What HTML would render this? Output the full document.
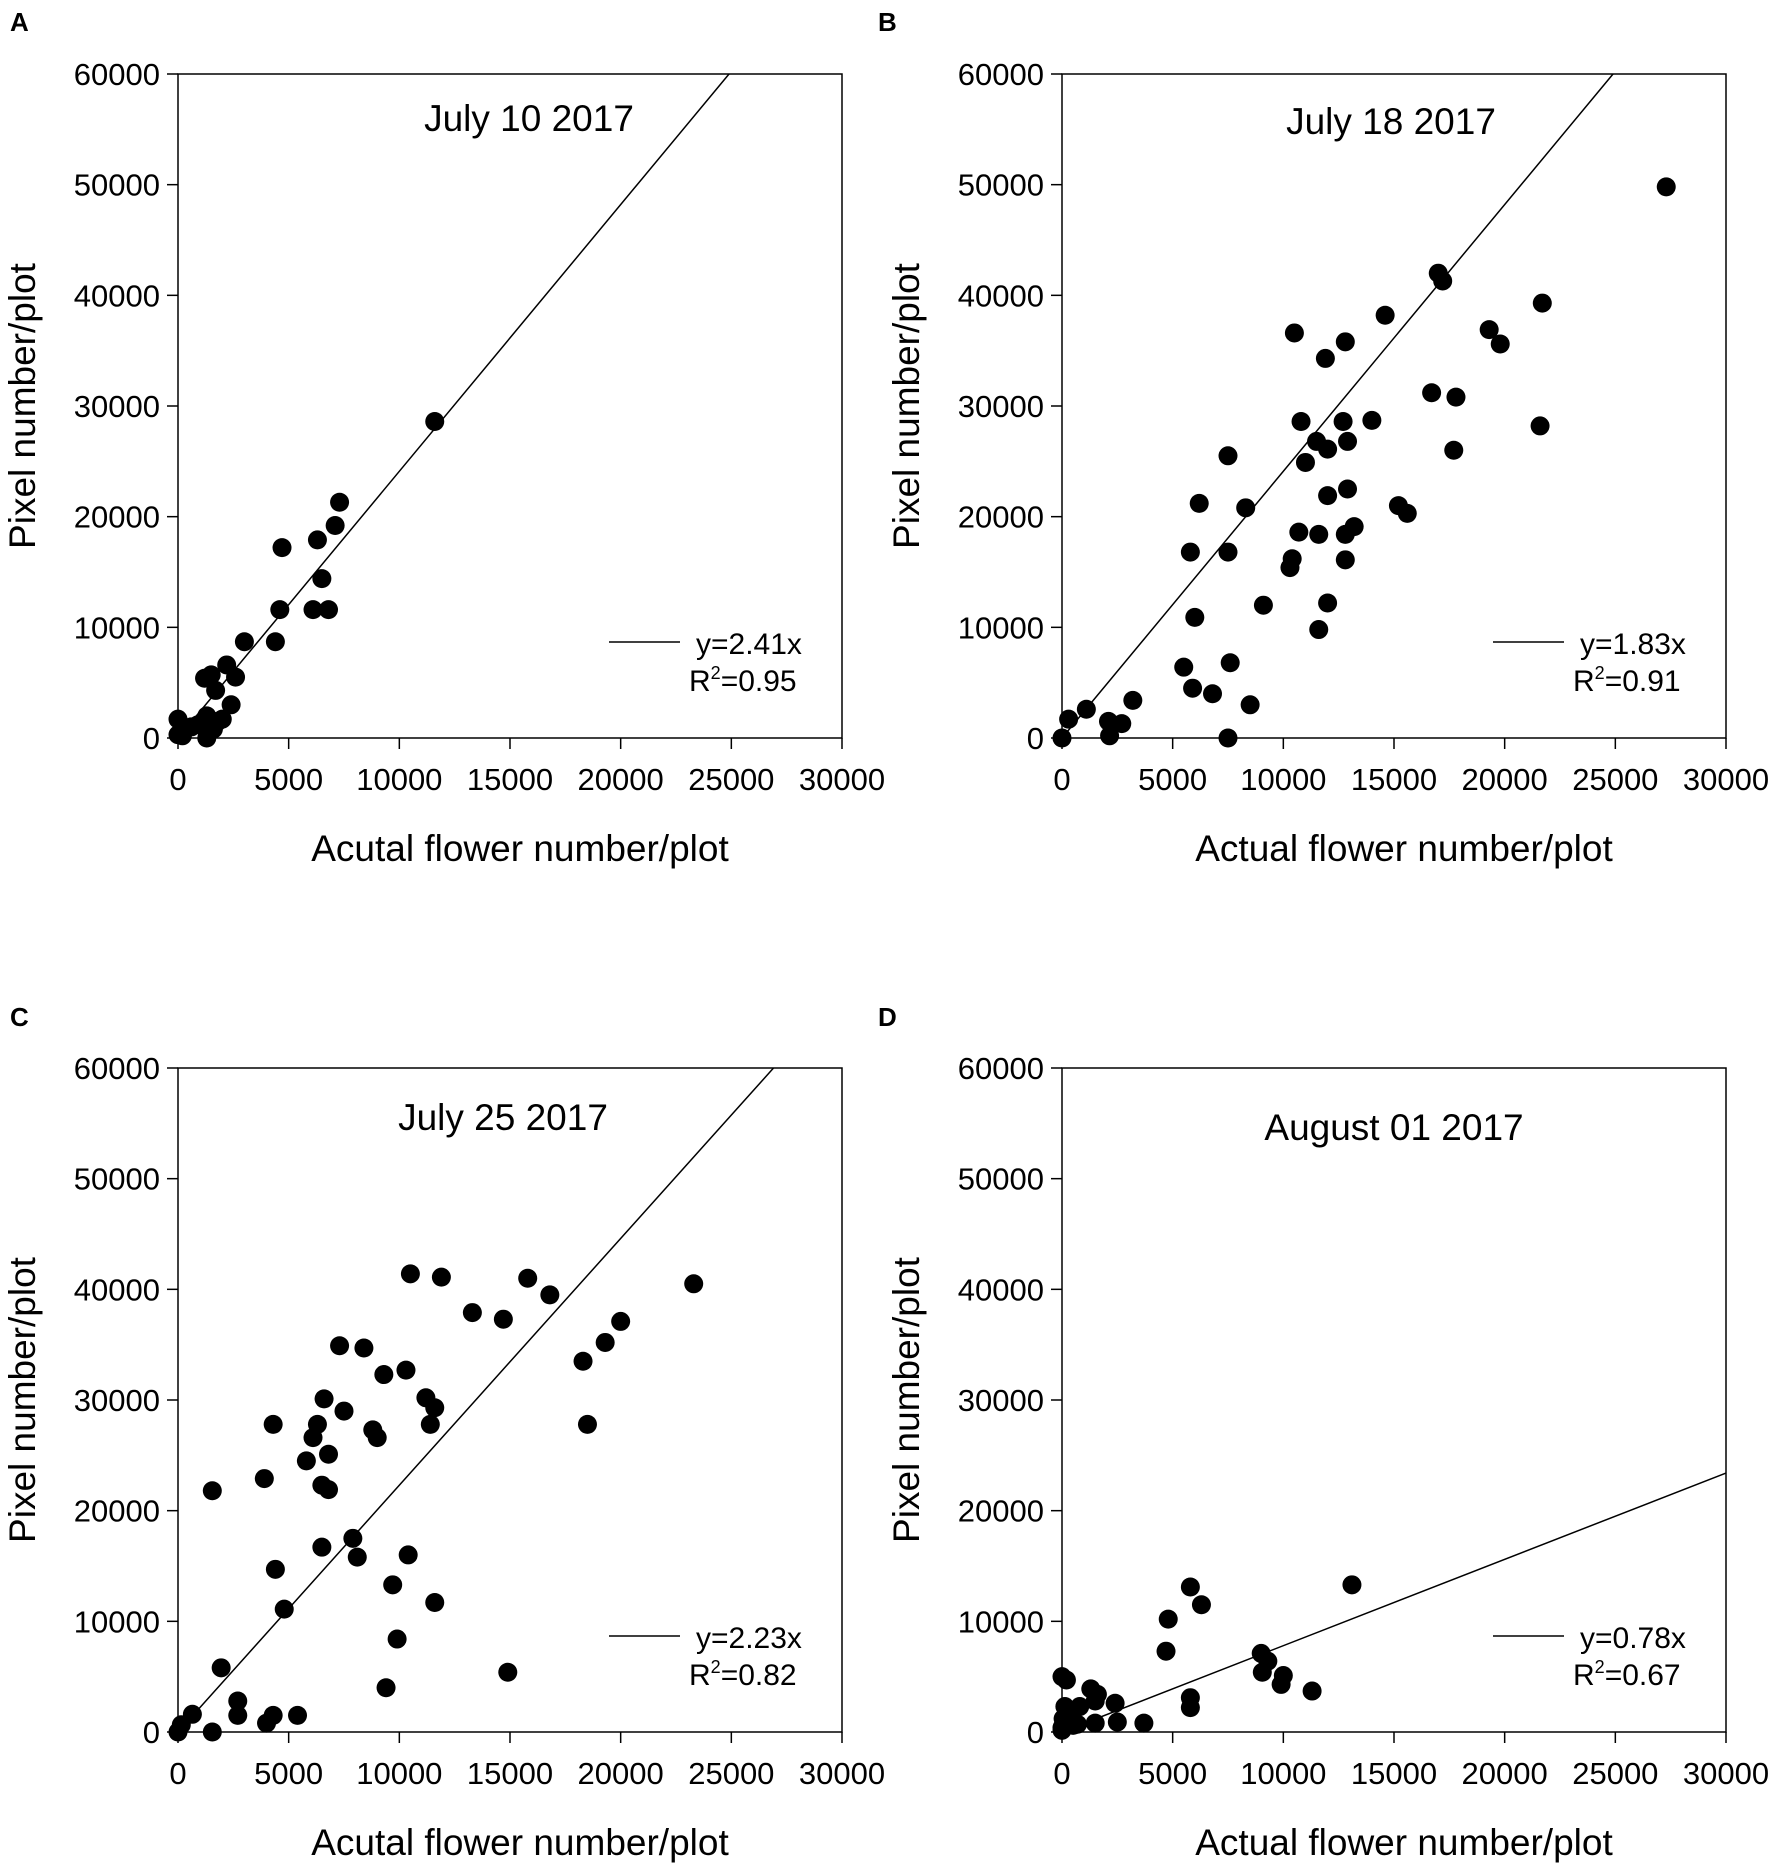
<!DOCTYPE html>
<html><head><meta charset="utf-8"><style>
html,body{margin:0;padding:0;background:#fff}
svg{display:block}
text{font-family:"Liberation Sans",Arial,sans-serif;fill:#000}
</style></head><body>
<svg id="fig" width="1772" height="1866" viewBox="0 0 1772 1866" xmlns="http://www.w3.org/2000/svg"></svg>
<script>
const xTicks=[0,5000,10000,15000,20000,25000,30000];
const yTicks=[0,10000,20000,30000,40000,50000,60000];
const titles=["July 10 2017","July 18 2017","July 25 2017","August 01 2017"];
const letters=["A","B","C","D"];
const xTitles=["Acutal flower number/plot","Actual flower number/plot","Acutal flower number/plot","Actual flower number/plot"];
const lineSlopes=[2.41,2.41,2.23,0.78];
const eqLabels=["y=2.41x","y=1.83x","y=2.23x","y=0.78x"];
const r2Labels=["0.95","0.91","0.82","0.67"];
const ax=[0,0,200,600,1200,1500,1700,1300,1500,1300,1800,2000,2200,2400,2600,3000,4400,4600,4700,6100,6300,6500,6800,7100,7300,11600,900,1600];
const ay=[1700,300,200,1000,5400,5700,4300,2000,1000,0,1500,1700,6600,3000,5500,8700,8700,11600,17200,11600,17900,14400,11600,19200,21300,28600,1200,800];
const bx=[0,300,1100,2100,2150,2700,3200,5500,5800,5900,6000,6200,6800,7500,7500,7600,7500,8300,8500,9100,10300,10400,10500,10700,10800,11000,11500,11600,11600,11900,12000,12000,12000,12700,12800,12800,12800,12900,12900,13200,14000,14600,15200,15600,16700,17000,17200,17700,17800,19300,19800,21600,21700,27300];
const by=[0,1700,2600,1500,200,1300,3400,6400,16800,4500,10900,21200,4000,25500,16800,6800,0,20800,3000,12000,15400,16200,36600,18600,28600,24900,26800,18400,9800,34300,21900,26100,12200,28600,16100,18400,35800,26800,22500,19100,28700,38200,21000,20300,31200,42000,41300,26000,30800,36900,35600,28200,39300,49800];
const cx=[0,150,650,1550,1550,1950,2700,2700,3900,4000,4300,4300,4400,4800,5400,5800,6100,6300,6500,6500,6600,6800,6800,7300,7500,7900,8100,8400,8800,9000,9300,9400,9700,9900,10300,10400,10500,11200,11400,11600,11600,11900,13300,14700,14900,15800,16800,18300,18500,19300,20000,23300];
const cy=[0,650,1600,0,21800,5800,2800,1500,22900,800,1500,27800,14700,11100,1500,24500,26600,27800,22300,16700,30100,21900,25100,34900,29000,17500,15800,34700,27300,26600,32300,4000,13300,8400,32700,16000,41400,30200,27800,29300,11700,41100,37900,37300,5400,41000,39500,33500,27800,35200,37100,40500];
const dx=[0,200,0,50,130,230,430,800,700,1300,1500,1600,1500,2400,2500,3700,4700,4800,5800,5800,5800,6300,9000,9050,9300,10000,9900,11300,13100,0,300,500];
const dy=[5000,4700,150,1200,2300,700,1800,2300,700,3900,2800,3400,800,2600,900,800,7300,10200,13100,3100,2200,11500,7100,5400,6400,5100,4300,3700,13300,400,1300,600];
const xsData=[ax,bx,cx,dx], ysData=[ay,by,cy,dy];

const NS="http://www.w3.org/2000/svg";
const svg=document.getElementById('fig');
function mk(tag,attrs,parent){const e=document.createElementNS(NS,tag);for(const k in attrs)e.setAttribute(k,attrs[k]);(parent||svg).appendChild(e);return e;}
const panels=[{l:178,t:74,lx:10,ly:31,tc:351,tb:57},{l:1062,t:74,lx:878,ly:31,tc:329,tb:60},{l:178,t:1068,lx:10,ly:1026,tc:325,tb:62},{l:1062,t:1068,lx:878,ly:1026,tc:332,tb:72}];
const W=664,H=664,XMAX=30000,YMAX=60000;
panels.forEach((p,i)=>{
  const g=mk('g',{});
  
  
  const X=v=>p.l+v/XMAX*W, Y=v=>p.t+H-v/YMAX*H;
  const lt=mk('text',{x:p.lx,y:p.ly,'font-size':26,'font-weight':'bold'},g);lt.textContent=letters[i];
  
  
  const fr=mk('rect',{x:p.l,y:p.t,width:W,height:H,fill:'none',stroke:'#000','stroke-width':1.5},g);
  
  
  xTicks.forEach(v=>{
    mk('line',{x1:X(v),x2:X(v),y1:p.t+H,y2:p.t+H+11,stroke:'#000','stroke-width':1.5},g);
    const t=mk('text',{x:X(v),y:p.t+H+52,'font-size':31,'text-anchor':'middle'},g);t.textContent=v;
    
    
  });
  yTicks.forEach(v=>{
    mk('line',{x1:p.l-11,x2:p.l,y1:Y(v),y2:Y(v),stroke:'#000','stroke-width':1.5},g);
    const t=mk('text',{x:p.l-18,y:Y(v)+11,'font-size':31,'text-anchor':'end'},g);t.textContent=v;
    
    
  });
  const xt=mk('text',{x:p.l+342,y:p.t+H+123,'font-size':37,'text-anchor':'middle'},g);xt.textContent=xTitles[i];
  
  
  const cyy=p.t+H/2;
  const yt=mk('text',{x:0,y:0,'font-size':37,'text-anchor':'middle',transform:`translate(${p.l-143},${cyy}) rotate(-90)`},g);yt.textContent="Pixel number/plot";
  
  
  const tt=mk('text',{x:p.l+p.tc,y:p.t+p.tb,'font-size':37,'text-anchor':'middle'},g);tt.textContent=titles[i];
  
  
  const xEnd=Math.min(XMAX,YMAX/lineSlopes[i]);
  const rl=mk('line',{x1:X(0),y1:Y(0),x2:X(xEnd),y2:Y(lineSlopes[i]*xEnd),stroke:'#000','stroke-width':1.5},g);
  
  
  xsData[i].forEach((xv,j)=>{
    const c=mk('circle',{cx:X(xv),cy:Y(ysData[i][j]),r:9.5,fill:'#000'},g);
    
    
  });
  const lg=mk('g',{},g);
  
  
  mk('line',{x1:p.l+431,x2:p.l+502,y1:p.t+568,y2:p.t+568,stroke:'#000','stroke-width':1.5},lg);
  const e1=mk('text',{x:p.l+518,y:p.t+580,'font-size':30},lg);e1.textContent=eqLabels[i];
  
  
  const e2=mk('text',{x:p.l+511,y:p.t+617,'font-size':30},lg);
  
  
  const a=mk('tspan',{},e2);a.textContent="R";
  const b=mk('tspan',{dy:-12,'font-size':18},e2);b.textContent="2";
  const c=mk('tspan',{dy:12},e2);c.textContent="="+r2Labels[i];
});
</script>
</body></html>
